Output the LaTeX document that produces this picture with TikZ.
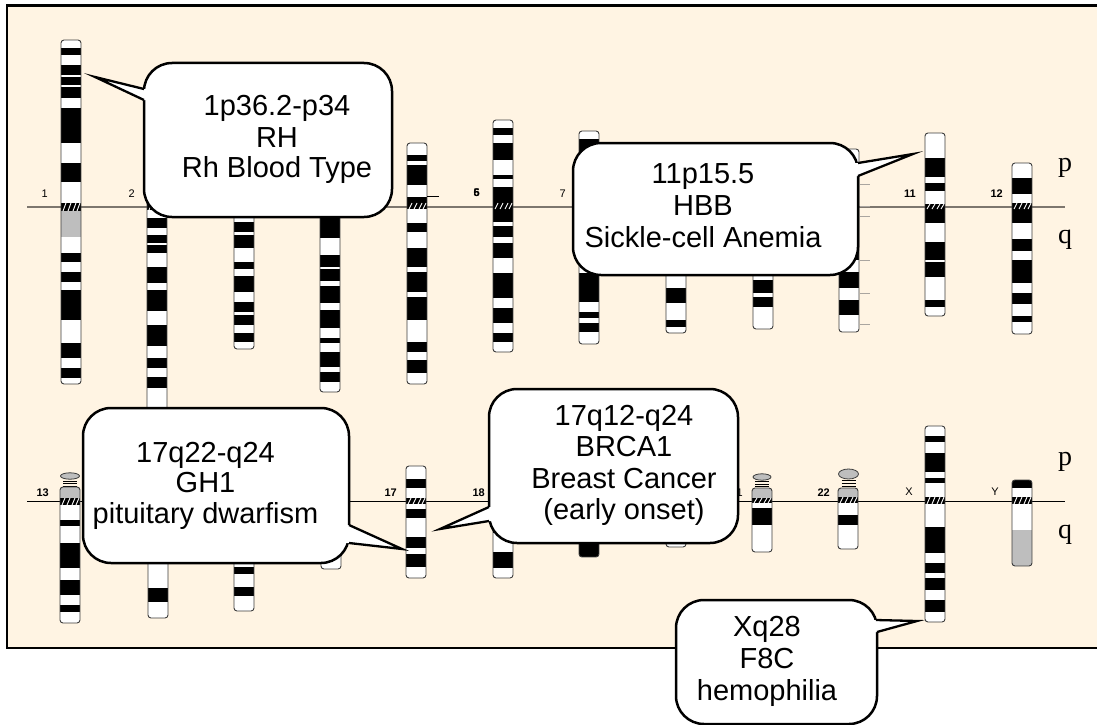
\documentclass[tikz,border=0pt]{standalone}
\usepackage{fontspec}
\setmainfont{Liberation Sans}
\newfontfamily\pqfont{Liberation Serif}
\usetikzlibrary{calc}
\definecolor{panelbg}{RGB}{255,244,227}
\definecolor{bandgray}{RGB}{190,190,190}
\definecolor{axisgray}{RGB}{125,118,110}
\definecolor{chrline}{RGB}{60,60,60}
\definecolor{tickgray}{RGB}{170,165,160}

% #1 x-left, #2 top, #3 bottom, #4 black bands, #5 gray bands, #6/#7 centromere
\newcommand\chromo[7]{%
  \begin{scope}
    \clip[rounded corners=3pt] (#1,#2) rectangle (#1+20,#3);
    \fill[white] (#1,#2) rectangle (#1+20,#3);
    \foreach \ya/\yb in {#4} {\fill[black] (#1,\ya) rectangle (#1+20,\yb);}
    \foreach \ya/\yb in {#5} {\fill[bandgray] (#1,\ya) rectangle (#1+20,\yb);}
    \fill[black] (#1,#6) rectangle (#1+20,#7);
    \foreach \hx in {3,8,13,17} {\draw[white,line width=0.9pt] (#1+\hx-1,#7) -- (#1+\hx+2,#6);}
  \end{scope}
  \draw[chrline, line width=0.9pt, rounded corners=3pt] (#1,#2) rectangle (#1+20,#3);
}
% satellite: cx, cy, rx, ry, stalk top, stalk bottom
\newcommand\satel[6]{%
  \foreach \sy in {0,0.5,1} {\draw[black,line width=0.8pt] (#1-7,{#5+(#6-#5)*\sy}) -- (#1+7,{#5+(#6-#5)*\sy});}
  \draw[chrline, fill=bandgray, line width=0.8pt] (#1,#2) ellipse [x radius=#3pt, y radius=#4pt];
}

\begin{document}
\begin{tikzpicture}[x=1pt,y=-1pt,
  numlab/.style={font=\fontsize{11}{13}\selectfont, anchor=base east, inner sep=0pt},
  numlabb/.style={numlab, font=\fontsize{11}{13}\selectfont\bfseries},
  pqlab/.style={font=\pqfont\fontsize{28}{30}\selectfont, anchor=base, inner sep=0pt},
  calloutbox/.style={draw=black, line width=2.5pt, fill=white, rounded corners=28pt, inner sep=0pt},
  callouttext/.style={font=\fontsize{29}{31}\selectfont, anchor=base, inner sep=0pt},
  pointer/.style={draw=black, line width=2.3pt, line join=miter, miter limit=20},
  tick/.style={draw=tickgray, line width=0.8pt}]
\useasboundingbox (0,0) rectangle (1097,725);

% panel (right edge runs past the picture)
\begin{scope}
\clip (0,0) rectangle (1097,725);
\draw[line width=2.2pt, fill=panelbg] (7,5.5) rectangle (1110,648);
\end{scope}

% centromere axes
\draw[axisgray, line width=1.3pt] (27,207) -- (1065,207);
\draw[black, line width=0.9pt] (27,501) -- (1065,501);

% ---------- top row ----------
\chromo{61}{40}{384}{48/55,65/75,77/85,87/98,108/143,163/182,253/262,272/282,290/320,343/358,368/378}{211/237}{203}{211}
\chromo{147}{95}{445}{110/125,140/160,175/195,218/228,235/243,245/253,267/283,290/311,325/346,358/368,377/388,420/435}{0/0}{203}{210}
\chromo{234}{100}{349}{115/130,150/170,185/200,222/232,235/248,262/269,276/292,302/312,315/325,333/342}{0/0}{203}{209}
\chromo{320}{110}{392}{125/140,160/185,212/238,255/267,269/281,286/303,310/328,338/343,352/367,372/382}{0/0}{203}{209}
\chromo{407}{143}{384}{155/161,165/185,197/203,223/232,248/267,272/292,297/320,342/352,360/373}{0/0}{203}{209}
\chromo{493}{120}{352}{128/135,143/160,175/179,187/203,209/222,226/237,243/258,273/298,308/323,333/342}{0/0}{203}{209}
\chromo{579}{131}{344}{139/155,170/185,190/201,212/230,240/255,273/302,312/318,323/332}{0/0}{203}{209}
\chromo{666}{150}{333}{165/180,190/200,215/235,250/260,288/303,320/327}{0/0}{203}{209}
\chromo{753}{155}{329}{170/185,215/240,255/265,280/293,297/307}{0/0}{203}{209}
\chromo{839}{149}{332}{180/195,215/235,245/260,272/288,300/315}{0/0}{203}{209}
\chromo{925}{133}{316}{158/177,183/191,209/223,242/260,262/277,300/307}{0/0}{204}{209}
\chromo{1012}{163}{334}{178/194,209/223,239/251,260/283,293/304,316/322}{0/0}{203}{209}

% stray tick by chromosome 5
\draw[black, line width=0.8pt] (427,196) -- (439,196);
% ticks right of chromosome 10
\foreach \ty in {184,206,216,260,293,324} {\draw[tick] (860,\ty) -- (870,\ty);}

% ---------- bottom row ----------
\satel{70}{476}{9.5}{3.2}{481}{486}
\chromo{60}{487}{623}{520/526,543/568,580/595,605/612}{487/498}{498}{505}
\chromo{148}{487}{618}{515/525,540/552,588/602}{487/498}{498}{505}
\chromo{234}{487}{611}{520/530,545/555,567/574,587/596}{487/498}{498}{505}
\chromo{321}{470}{569}{485/495,515/530,550/556}{0/0}{498}{504}
\chromo{406}{466}{578}{479/488,509/518,537/548,554/567}{0/0}{498}{504}
\chromo{493}{480}{578}{485/492,510/520,525/533,552/568}{0/0}{498}{504}
\chromo{579}{480}{557}{515/525,543/557}{0/0}{498}{504}
\chromo{666}{475}{547}{510/525}{0/0}{498}{504}
\satel{762}{477}{9}{3.2}{481.5}{486.5}
\chromo{752}{488}{552}{508/525}{488/498}{498}{503}
\satel{848.5}{474}{10}{5}{480.5}{486.5}
\chromo{838}{488}{549}{515/525}{488/497}{497}{503}
\chromo{925}{426}{622}{436/442,453/472,478/483,527/553,563/573,578/590,600/612}{0/0}{497}{504}
\chromo{1012}{480}{566}{480/488}{530/566}{497}{504}

% ---------- labels ----------
\node[numlab]  (n1)  at (48,197)  {1};
\node[numlab]  (n2)  at (135,197) {2};
\node[numlabb] (n5)  at (480,196) {5};
\node[numlabb] (n6)  at (480,196) {6};
\node[numlab]  (n7)  at (566,197) {7};
\node[numlabb] (n11) at (916,197) {11};
\node[numlabb] (n12) at (1003,197) {12};
\node[numlabb] (n13) at (49,496)  {13};
\node[numlabb] (n17) at (397,496) {17};
\node[numlabb] (n18) at (485,496) {18};
\node[numlab]  (n21) at (743,496) {21};
\node[numlabb] (n22) at (830,496) {22};
\node[numlab]  (nX)  at (913,495) {X};
\node[numlab]  (nY)  at (999,495) {Y};

\node[pqlab] (p1) at (1065,171) {p};
\node[pqlab] (q1) at (1065,243) {q};
\node[pqlab] (p2) at (1065,465) {p};
\node[pqlab] (q2) at (1065,538) {q};

% ---------- callouts ----------
% 1: RH
\node[calloutbox, minimum width=248pt, minimum height=154pt] (c1) at (268,140) {};
\coordinate (c1t) at (95,77);
\coordinate (c1a) at (144,89);
\coordinate (c1b) at (144,100);
\fill[white] ($(c1a)+(3.5,0)$) -- (c1a) -- (c1t) -- (c1b) -- ($(c1b)+(3.5,0)$) -- cycle;
\draw[pointer] (c1a) -- (c1t) -- (c1b);
\node[callouttext] (c1l1) at (277,115) {1p36.2-p34};
\node[callouttext] (c1l2) at (277,147) {RH};
\node[callouttext] (c1l3) at (277,177) {Rh Blood Type};

% 2: HBB
\node[calloutbox, minimum width=285pt, minimum height=132pt] (c2) at (715.5,209) {};
\coordinate (c2t) at (913,154);
\coordinate (c2a) at (858,163);
\coordinate (c2b) at (858,176);
\fill[white] ($(c2a)+(-3.5,0)$) -- (c2a) -- (c2t) -- (c2b) -- ($(c2b)+(-3.5,0)$) -- cycle;
\draw[pointer] (c2a) -- (c2t) -- (c2b);
\node[callouttext] (c2l1) at (703,183) {11p15.5};
\node[callouttext] (c2l2) at (703,215) {HBB};
\node[callouttext] (c2l3) at (703,247) {Sickle-cell Anemia};

% 3: GH1
\node[calloutbox, minimum width=266pt, minimum height=155pt] (c3) at (216,485.5) {};
\coordinate (c3t) at (402,549);
\coordinate (c3a) at (349,525);
\coordinate (c3b) at (349,543);
\fill[white] ($(c3a)+(-3.5,0)$) -- (c3a) -- (c3t) -- (c3b) -- ($(c3b)+(-3.5,0)$) -- cycle;
\draw[pointer] (c3a) -- (c3t) -- (c3b);
\node[callouttext] (c3l1) at (205.5,462) {17q22-q24};
\node[callouttext] (c3l2) at (205.5,492) {GH1};
\node[callouttext] (c3l3) at (205.5,523) {pituitary dwarfism};

% 4: BRCA1
\node[calloutbox, minimum width=249pt, minimum height=154pt] (c4) at (613.5,466) {};
\coordinate (c4t) at (440,529);
\coordinate (c4a) at (489,507);
\coordinate (c4b) at (489,521);
\fill[white] ($(c4a)+(3.5,0)$) -- (c4a) -- (c4t) -- (c4b) -- ($(c4b)+(3.5,0)$) -- cycle;
\draw[pointer] (c4a) -- (c4t) -- (c4b);
\node[callouttext] (c4l1) at (624,425) {17q12-q24};
\node[callouttext] (c4l2) at (624,456) {BRCA1};
\node[callouttext] (c4l3) at (624,488) {Breast Cancer};
\node[callouttext] (c4l4) at (624,519) {(early onset)};

% 5: F8C
\node[calloutbox, minimum width=201pt, minimum height=124pt] (c5) at (776.5,662) {};
\coordinate (c5t) at (917,621);
\coordinate (c5a) at (875.8,620);
\coordinate (c5b) at (877,632);
\fill[white] ($(c5a)+(-3.5,0)$) -- (c5a) -- (c5t) -- (c5b) -- ($(c5b)+(-3.5,0)$) -- cycle;
\draw[pointer] (c5a) -- (c5t) -- (c5b);
\node[callouttext] (c5l1) at (767,636) {Xq28};
\node[callouttext] (c5l2) at (767,668) {F8C};
\node[callouttext] (c5l3) at (767,700) {hemophilia};

\end{tikzpicture}
\end{document}
